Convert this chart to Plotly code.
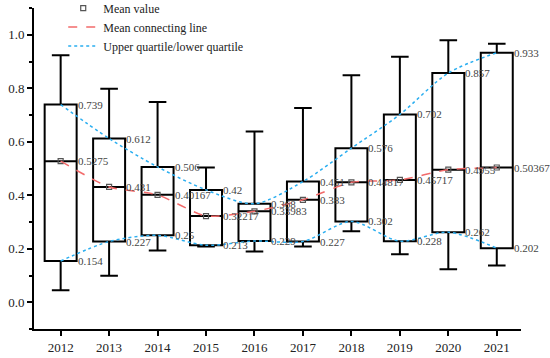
import plotly.graph_objects as go

years = ["2012", "2013", "2014", "2015", "2016", "2017", "2018", "2019", "2020", "2021"]
upper_quartile = [0.739, 0.612, 0.506, 0.42, 0.368, 0.451, 0.576, 0.702, 0.857, 0.933]
lower_quartile = [0.154, 0.227, 0.25, 0.213, 0.229, 0.227, 0.302, 0.228, 0.262, 0.202]
mean_values = [0.5275, 0.431, 0.40167, 0.32217, 0.33983, 0.383, 0.44817, 0.45717, 0.4955, 0.50367]
whisker_top = [0.923, 0.798, 0.749, 0.504, 0.638, 0.726, 0.849, 0.918, 0.979, 0.966]
whisker_bottom = [0.045, 0.099, 0.193, 0.208, 0.19, 0.208, 0.265, 0.179, 0.123, 0.137]

upper_labels = ["0.739", "0.612", "0.506", "0.42", "0.368", "0.451", "0.576", "0.702", "0.857", "0.933"]
lower_labels = ["0.154", "0.227", "0.25", "0.213", "0.229", "0.227", "0.302", "0.228", "0.262", "0.202"]
mean_labels = ["0.5275", "0.431", "0.40167", "0.32217", "0.33983", "0.383", "0.44817", "0.45717", "0.4955", "0.50367"]

SERIF = "Liberation Serif"

fig = go.Figure()

fig.add_trace(go.Box(
    x=years, q1=lower_quartile, median=mean_values, q3=upper_quartile,
    lowerfence=whisker_bottom, upperfence=whisker_top,
    width=0.66, whiskerwidth=0.55,
    fillcolor="white", line=dict(color="black", width=2),
    boxpoints=False, showlegend=False, hoverinfo="skip",
))

fig.add_trace(go.Scatter(
    x=years, y=mean_values, mode="markers", name="Mean value",
    marker=dict(symbol="square-open", size=5, color="#555555", line=dict(width=1.2)),
    hoverinfo="skip",
))
fig.add_trace(go.Scatter(
    x=years, y=mean_values, mode="lines", name="Mean connecting line",
    line=dict(color="#F26B6B", width=1.5, dash="dash", shape="spline", smoothing=0.6),
    hoverinfo="skip",
))
fig.add_trace(go.Scatter(
    x=years, y=upper_quartile, mode="lines", name="Upper quartile/lower quartile",
    line=dict(color="#2AAEF0", width=1.5, dash="dot", shape="spline", smoothing=0.8),
    hoverinfo="skip", legendgroup="q",
))
fig.add_trace(go.Scatter(
    x=years, y=lower_quartile, mode="lines", name="lower",
    line=dict(color="#2AAEF0", width=1.5, dash="dot", shape="spline", smoothing=0.8),
    hoverinfo="skip", showlegend=False, legendgroup="q",
))

for i in range(len(years)):
    for val, lab in ((upper_quartile[i], upper_labels[i]),
                     (mean_values[i], mean_labels[i]),
                     (lower_quartile[i], lower_labels[i])):
        fig.add_annotation(
            x=i, y=val, xref="x", yref="y", text=lab, showarrow=False,
            xanchor="left", yanchor="middle", xshift=15,
            font=dict(family=SERIF, size=11, color="#444444"),
        )

fig.update_layout(
    width=550, height=358,
    margin=dict(l=34, r=29, t=8, b=29, autoexpand=False),
    plot_bgcolor="white", paper_bgcolor="white",
    font=dict(family=SERIF, size=13, color="#222222"),
    legend=dict(
        x=0.06, y=1.045, xanchor="left", yanchor="top",
        bgcolor="rgba(0,0,0,0)", font=dict(family=SERIF, size=12, color="#222222"),
        tracegroupgap=0, itemwidth=30,
    ),
    xaxis=dict(
        type="category", range=[-0.55, 9.5], automargin=False,
        showline=True, linecolor="black", linewidth=2,
        ticks="outside", ticklen=5, tickwidth=2, tickcolor="black",
        showgrid=False, zeroline=False,
        tickfont=dict(family=SERIF, size=13, color="#222222"),
    ),
    yaxis=dict(
        range=[-0.1, 1.1], dtick=0.2, tick0=0, tickformat=".1f", automargin=False,
        showline=True, linecolor="black", linewidth=2,
        ticks="outside", ticklen=5, tickwidth=2, tickcolor="black",
        minor=dict(dtick=0.1, ticks="outside", ticklen=3, tickwidth=1.5, tickcolor="black"),
        showgrid=False, zeroline=False,
        tickfont=dict(family=SERIF, size=13, color="#222222"),
    ),
)

fig.write_html(
    "out.html",
    config={"displayModeBar": False},
    post_script="document.body.style.margin='0';document.body.style.padding='0';",
)
